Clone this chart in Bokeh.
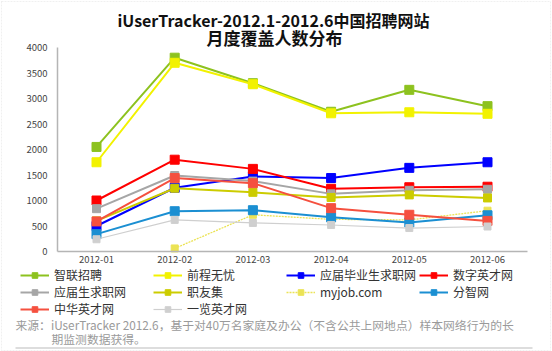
from bokeh.plotting import figure
from bokeh.models import (Legend, LegendItem, Label, BoxAnnotation, FixedTicker,
                          ColumnDataSource, Range1d)
from bokeh.embed import file_html
from bokeh.resources import INLINE

months = ["2012-01", "2012-02", "2012-03", "2012-04", "2012-05", "2012-06"]
series_names = ["智联招聘", "前程无忧", "应届毕业生求职网", "数字英才网",
                "应届生求职网", "职友集", "myjob.com", "分智网",
                "中华英才网", "一览英才网"]
zhilian = [2050, 3800, 3300, 2740, 3170, 2850]
qiancheng = [1750, 3700, 3280, 2710, 2730, 2700]
yingjie_biye = [500, 1250, 1470, 1440, 1640, 1750]
shuzi = [1000, 1800, 1620, 1230, 1260, 1270]
yingjiesheng = [840, 1490, 1380, 1130, 1200, 1220]
zhiyouji = [600, 1240, 1160, 1060, 1110, 1050]
myjob = [float("nan"), 60, 720, 630, 620, 800]
fenzhi = [340, 790, 810, 670, 570, 710]
zhonghua = [590, 1440, 1340, 850, 720, 600]
yilan = [240, 620, 560, 520, 460, 490]
y_ticks = [0, 500, 1000, 1500, 2000, 2500, 3000, 3500, 4000]

values = [zhilian, qiancheng, yingjie_biye, shuzi, yingjiesheng, zhiyouji,
          myjob, fenzhi, zhonghua, yilan]
colors = ["#8DC21F", "#F2F200", "#0000FF", "#FF0000", "#A6A6A6", "#CCCC00",
          "#EBE355", "#1B8FD2", "#F5503F", "#CFCFCF"]
widths = [2, 2, 2, 2, 2, 2, 1.3, 2, 2, 1.2]
dashes = ["solid"] * 6 + ["2 1"] + ["solid"] * 3
msizes = [9, 9, 9, 9, 8, 8, 7, 9, 9, 7]

FONT = "Noto Sans CJK SC"
W, H = 552, 351
# pixel layout of the plotting area inside the picture
X0, DX = 96.0, 78.2          # centre of first month, spacing between months
AX_L, AX_R = 57.0, 527.0     # horizontal extent of the axes
Y_TOP, Y_BOT = 47.0, 251.0   # pixel rows of 4000 and 0
PPU = (Y_BOT - Y_TOP) / 4000.0

xs = list(range(len(months)))
x_range = Range1d(-X0 / DX, (W - X0) / DX)
y_range = Range1d(-(H - Y_BOT) / PPU, Y_BOT / PPU)

p = figure(width=W, height=H, x_range=x_range, y_range=y_range,
           output_backend="svg", toolbar_location=None,
           min_border=0, min_border_left=0, min_border_right=0,
           min_border_top=0, min_border_bottom=0)
p.outline_line_color = None
p.xgrid.grid_line_color = None
p.ygrid.grid_line_color = None
p.background_fill_color = "white"
p.border_fill_color = "white"

p.xaxis.fixed_location = 0
p.xaxis.bounds = ((AX_L - X0) / DX, (AX_R - X0) / DX)
p.xaxis.ticker = FixedTicker(ticks=xs)
p.xaxis.major_label_overrides = {i: m for i, m in zip(xs, months)}
p.yaxis.fixed_location = (AX_L - X0) / DX
p.yaxis.bounds = (0, 4000)
p.yaxis.ticker = FixedTicker(ticks=y_ticks)
for ax in (p.xaxis, p.yaxis):
    ax.axis_line_color = "#B5B5B5"
    ax.axis_line_width = 1.5
    ax.major_tick_line_color = None
    ax.minor_tick_line_color = None
    ax.major_tick_out = 0
    ax.major_tick_in = 0
    ax.minor_tick_out = 0
    ax.minor_tick_in = 0
    ax.major_label_text_font = FONT
    ax.major_label_text_font_size = "9.5px"
    ax.major_label_text_color = "#444444"
p.yaxis.major_label_standoff = 10
p.xaxis.major_label_standoff = 4

items = []
for name, vals, c, w, d, ms in zip(series_names, values, colors, widths, dashes, msizes):
    src = ColumnDataSource(dict(x=xs, y=vals))
    ln = p.line("x", "y", source=src, line_color=c, line_width=w, line_dash=d)
    mk = p.scatter("x", "y", source=src, marker="square", size=ms,
                   fill_color=c, line_color=c)
    items.append(LegendItem(label=name, renderers=[ln, mk]))

legend = Legend(items=items, ncols=4, orientation="horizontal",
                location=(20, H - 317),
                glyph_width=29, glyph_height=14, label_height=14,
                label_width=99, label_standoff=5, spacing=0, padding=0,
                margin=0, border_line_color=None, background_fill_alpha=0,
                label_text_font=FONT, label_text_font_size="12px",
                label_text_color="#333333")
p.add_layout(legend, "center")

def lab(text, xc, yc, size, color, bold=False, align="left"):
    p.add_layout(Label(x=xc, y=H - yc, x_units="screen", y_units="screen",
                       text=text, text_font=FONT, text_font_size=size,
                       text_color=color, text_align=align,
                       text_baseline="middle",
                       text_font_style="bold" if bold else "normal"))

lab("iUserTracker-2012.1-2012.6中国招聘网站", 273, 19, "16px", "#111111", True, "center")
lab("月度覆盖人数分布", 274, 37, "17px", "#111111", True, "center")
lab("来源：iUserTracker 2012.6，基于对40万名家庭及办公（不含公共上网地点）样本网络行为的长",
    15, 324, "11.8px", "#9A9A9A")
lab("期监测数据获得。", 51, 338, "11.8px", "#9A9A9A")

def box(l, r, t, b, **kw):
    p.add_layout(BoxAnnotation(left=l, right=r, top=H - t, bottom=H - b,
                               left_units="screen", right_units="screen",
                               top_units="screen", bottom_units="screen", **kw))

box(15, 532, 347, 348, fill_color="#BBBBBB", fill_alpha=1, line_color=None)
box(1, 550, 1, 350, fill_alpha=0, line_color="#CCCCCC", line_width=1, line_dash="2 1")

open("out.html", "w").write(file_html(p, INLINE))
